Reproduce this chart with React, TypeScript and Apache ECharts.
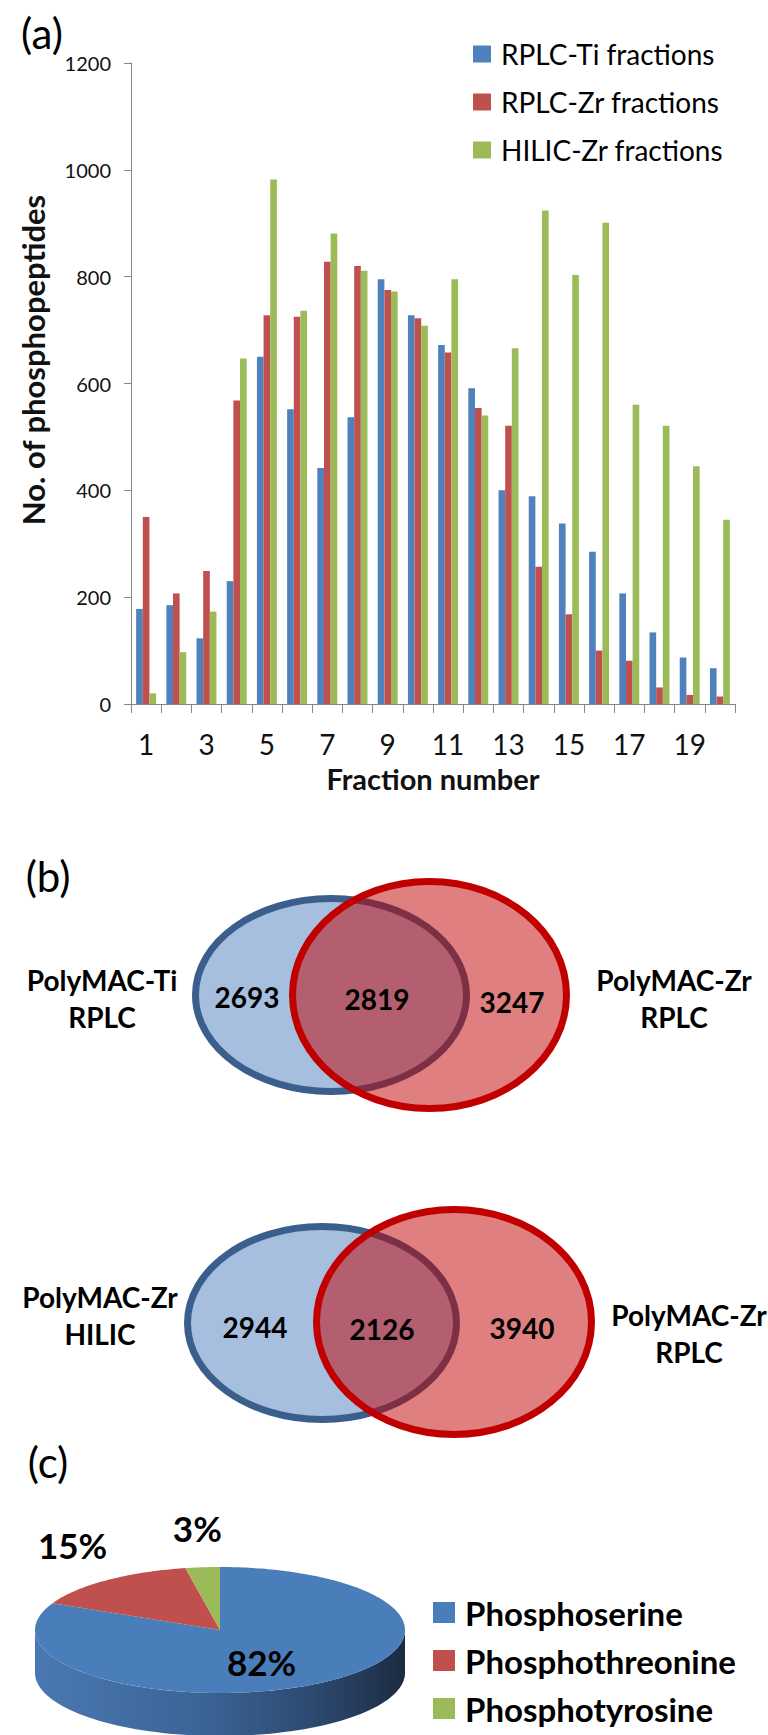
import React, { useEffect, useRef } from "react";
import * as echarts from "echarts";

// ---------- data ----------
const fractions = ["1","2","3","4","5","6","7","8","9","10","11","12","13","14","15","16","17","18","19","20"];
const rplcTi = [178, 185, 123, 230, 650, 552, 442, 537, 795, 728, 672, 591, 400, 389, 338, 285, 207, 134, 87, 67];
const rplcZr = [350, 207, 249, 568, 728, 725, 828, 820, 775, 722, 658, 554, 521, 257, 168, 100, 81, 31, 17, 14];
const hilicZr = [20, 97, 173, 647, 982, 736, 881, 811, 772, 708, 795, 540, 666, 924, 803, 901, 560, 521, 445, 345];
const barSeriesNames = ["RPLC-Ti fractions", "RPLC-Zr fractions", "HILIC-Zr fractions"];
const yTicks = { min: 0, max: 1200, interval: 200 };

const venn1Labels = ["PolyMAC-Ti\nRPLC", "PolyMAC-Zr\nRPLC"];
const venn1Counts = [2693, 2819, 3247];
const venn2Labels = ["PolyMAC-Zr\nHILIC", "PolyMAC-Zr\nRPLC"];
const venn2Counts = [2944, 2126, 3940];

const pieNames = ["Phosphoserine", "Phosphothreonine", "Phosphotyrosine"];
const pieValues = [82, 15, 3];

// ---------- styles ----------
const FONT = "Lato";
const barColors = ["#4F81BD", "#C0504D", "#9BBB59"];
const pieColors = ["#4A7EBB", "#C0504D", "#9BBB59"];
const axisGray = "#868686";

const PIE = { cx: 220, cy: 1630, rx: 185, ry: 63, depth: 43 };

function pieRender(idx: number) {
  return (params: any, api: any) => {
    const total = pieValues.reduce((a, b) => a + b, 0);
    let before = 0;
    for (let k = 0; k < idx; k++) before += pieValues[k];
    const v = api.value(0);
    const a0 = (before / total) * Math.PI * 2;
    const a1 = ((before + v) / total) * Math.PI * 2;
    const pt = (a: number, dy = 0, f = 1) => [
      PIE.cx + PIE.rx * f * Math.sin(a),
      PIE.cy - PIE.ry * f * Math.cos(a) + dy,
    ];
    const children: any[] = [];
    const s = Math.max(a0, Math.PI / 2);
    const e = Math.min(a1, (Math.PI * 3) / 2);
    if (e > s) {
      const pts: number[][] = [];
      const n = 80;
      for (let j = 0; j <= n; j++) pts.push(pt(s + ((e - s) * j) / n));
      for (let j = n; j >= 0; j--) pts.push(pt(s + ((e - s) * j) / n, PIE.depth));
      children.push({
        type: "polygon",
        shape: { points: pts },
        style: {
          fill: new echarts.graphic.LinearGradient(0, 0, 1, 0, [
            { offset: 0, color: "#4A78B2" },
            { offset: 0.45, color: "#3B6496" },
            { offset: 0.75, color: "#2D4A70" },
            { offset: 1, color: "#1C2B42" },
          ]),
        },
      });
    }
    const top: number[][] = [[PIE.cx, PIE.cy]];
    const m = Math.max(4, Math.round(((a1 - a0) / (Math.PI * 2)) * 360));
    for (let j = 0; j <= m; j++) top.push(pt(a0 + ((a1 - a0) * j) / m));
    children.push({
      type: "polygon",
      shape: { points: top },
      style: { fill: pieColors[idx] },
    });
    const mid = (a0 + a1) / 2;
    const inside = v / total >= 0.5;
    const lp = inside ? pt(mid, 10, 0.42) : pt(mid, -20, 1.3);
    children.push({
      type: "text",
      style: {
        text: v + "%",
        x: lp[0],
        y: lp[1],
        fill: "#000",
        fontSize: 35,
        fontWeight: "bold",
        fontFamily: FONT,
        align: "center",
        verticalAlign: "middle",
      },
    });
    return { type: "group", children };
  };
}

function vennGraphics(
  blue: { cx: number; cy: number; rx: number; ry: number },
  red: { cx: number; cy: number; rx: number; ry: number },
  labels: string[],
  counts: number[],
  labelPos: number[][],
  countPos: number[][]
) {
  const els: any[] = [
    {
      type: "ellipse",
      shape: blue,
      style: { fill: "#A7BFDE", stroke: "#3A5F8C", lineWidth: 7 },
    },
    {
      type: "ellipse",
      shape: red,
      style: { fill: "rgba(192,0,0,0.5)", stroke: "#C00000", lineWidth: 7 },
    },
  ];
  labels.forEach((t, i) => {
    els.push({
      type: "text",
      x: labelPos[i][0],
      y: labelPos[i][1],
      style: {
        text: t,
        fill: "#000",
        fontSize: 28,
        fontWeight: "bold",
        fontFamily: FONT,
        lineHeight: 37,
        align: "center",
        verticalAlign: "middle",
      },
    });
  });
  counts.forEach((c, i) => {
    els.push({
      type: "text",
      x: countPos[i][0],
      y: countPos[i][1],
      style: {
        text: String(c),
        fill: "#000",
        fontSize: 28,
        fontWeight: "bold",
        fontFamily: FONT,
        align: "center",
        verticalAlign: "middle",
      },
    });
  });
  return els;
}

export default function App() {
  const ref = useRef<HTMLDivElement>(null);
  useEffect(() => {
    if (!ref.current) return;
    const chart = echarts.init(ref.current, undefined, { renderer: "svg" });
    const panelLabel = (t: string, x: number, y: number) => ({
      type: "text",
      x,
      y,
      style: {
        text: t,
        fill: "#000",
        fontSize: 42,
        fontFamily: FONT,
        align: "center",
        verticalAlign: "middle",
      },
    });
    const option: any = {
      animation: false,
      backgroundColor: "#fff",
      textStyle: { fontFamily: FONT },
      grid: { left: 131, top: 63, width: 604, height: 641, containLabel: false },
      legend: [
        {
          data: barSeriesNames,
          orient: "vertical",
          left: 468,
          top: 35,
          icon: "rect",
          itemWidth: 18,
          itemHeight: 17,
          itemGap: 20,
          selectedMode: false,
          textStyle: { fontSize: 28, lineHeight: 28, color: "#000", padding: [0, 0, 0, 5], fontFamily: FONT },
        },
        {
          data: pieNames,
          orient: "vertical",
          left: 428,
          top: 1591,
          icon: "rect",
          itemWidth: 22,
          itemHeight: 21,
          itemGap: 15,
          selectedMode: false,
          textStyle: { fontSize: 33, lineHeight: 33, fontWeight: "bold", color: "#000", padding: [0, 0, 0, 5], fontFamily: FONT },
        },
      ],
      xAxis: {
        type: "category",
        data: fractions,
        boundaryGap: true,
        axisLine: { lineStyle: { color: axisGray } },
        axisTick: { show: true, interval: 0, length: 9, lineStyle: { color: axisGray } },
        axisLabel: { interval: 1, fontSize: 28, color: "#111", margin: 26, fontFamily: FONT },
        name: "Fraction number",
        nameLocation: "middle",
        nameGap: 60,
        nameTextStyle: { fontSize: 29, fontWeight: "bold", color: "#111", fontFamily: FONT },
        splitLine: { show: false },
      },
      yAxis: {
        type: "value",
        min: yTicks.min,
        max: yTicks.max,
        interval: yTicks.interval,
        axisLine: { show: true, lineStyle: { color: axisGray } },
        axisTick: { show: true, length: 7, lineStyle: { color: axisGray } },
        axisLabel: { fontSize: 20, color: "#111", margin: 20, fontFamily: FONT, formatter: (v: number) => String(v) },
        splitLine: { show: false },
      },
      series: [
        { name: barSeriesNames[0], type: "bar", data: rplcTi, itemStyle: { color: barColors[0] }, barGap: "0%", barCategoryGap: "34%" },
        { name: barSeriesNames[1], type: "bar", data: rplcZr, itemStyle: { color: barColors[1] }, barGap: "0%", barCategoryGap: "34%" },
        { name: barSeriesNames[2], type: "bar", data: hilicZr, itemStyle: { color: barColors[2] }, barGap: "0%", barCategoryGap: "34%" },
        ...pieNames.map((n, i) => ({
          name: n,
          type: "custom",
          coordinateSystem: "none",
          itemStyle: { color: pieColors[i] },
          data: [[pieValues[i]]],
          renderItem: pieRender(i),
          z: 2,
        })),
      ],
      graphic: [
        panelLabel("(a)", 42, 33),
        panelLabel("(b)", 48, 876),
        panelLabel("(c)", 48, 1462),
        {
          type: "text",
          x: 33,
          y: 360,
          rotation: Math.PI / 2,
          style: {
            text: "No. of phosphopeptides",
            fill: "#111",
            fontSize: 31,
            fontWeight: "bold",
            fontFamily: FONT,
            align: "center",
            verticalAlign: "middle",
          },
        },
        ...vennGraphics(
          { cx: 331, cy: 995, rx: 135.5, ry: 96.5 },
          { cx: 429.5, cy: 995, rx: 137, ry: 113.5 },
          venn1Labels,
          venn1Counts,
          [[102, 998], [674, 998]],
          [[247, 997], [377, 999], [512, 1002]]
        ),
        ...vennGraphics(
          { cx: 322, cy: 1323, rx: 134.5, ry: 96.5 },
          { cx: 454, cy: 1322, rx: 137.5, ry: 112.5 },
          venn2Labels,
          venn2Counts,
          [[100, 1315], [689, 1333]],
          [[255, 1327], [382, 1329], [522, 1328]]
        ),
      ],
    };
    chart.setOption(option);
    return () => chart.dispose();
  }, []);
  return (
    <div
      ref={ref}
      style={{ position: "absolute", left: 0, top: 0, width: 768, height: 1735 }}
    />
  );
}
